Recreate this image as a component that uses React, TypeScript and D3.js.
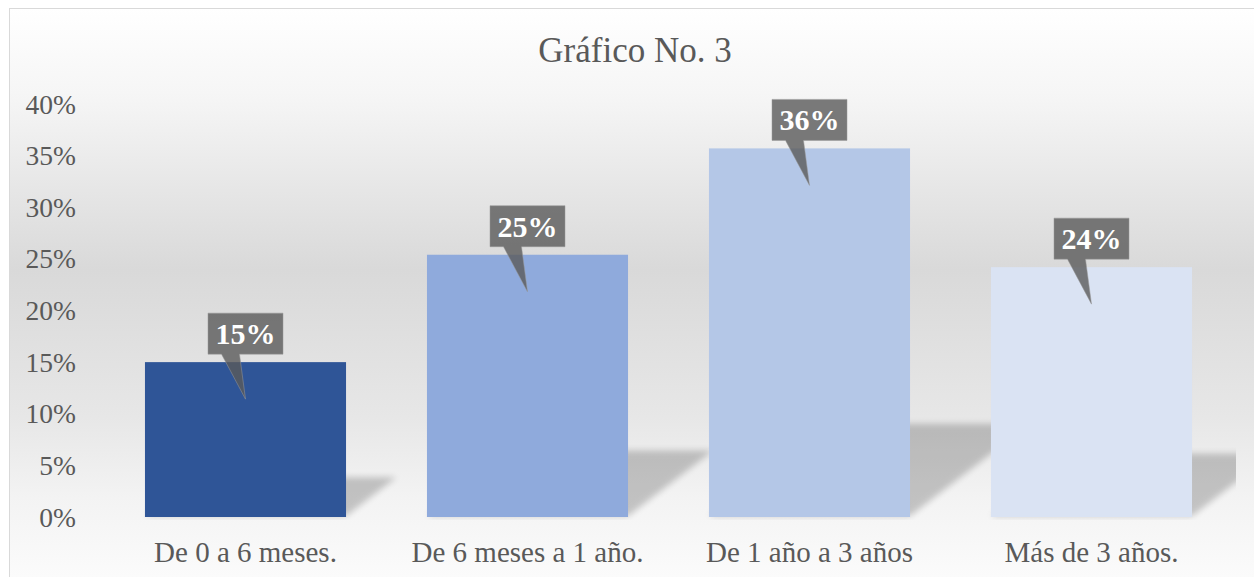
import React from "react";
import * as d3 from "d3";

const categories = ["De 0 a 6 meses.", "De 6 meses a 1 año.", "De 1 año a 3 años", "Más de 3 años."];
const values = [0.15, 0.254, 0.357, 0.242];
const barColors = ["#2f5597", "#8faadc", "#b4c7e7", "#dae3f3"];
const yTicks = [0, 0.05, 0.1, 0.15, 0.2, 0.25, 0.3, 0.35, 0.4];
const title = "Gráfico No. 3";

const W = 1254;
const H = 577;
const FONT = "'Liberation Serif', 'Times New Roman', serif";

export default function App() {
  const x = d3.scaleBand<string>().domain(categories).range([104.5, 1232.5]).paddingInner(0.287).paddingOuter(0.1435);
  const y = d3.scaleLinear().domain([0, 0.4]).range([517, 104]);
  const fmt = d3.format(".0%");
  const bw = x.bandwidth();

  return (
    <svg width={W} height={H} style={{ position: "absolute", left: 0, top: 0 }} xmlns="http://www.w3.org/2000/svg">
      <defs>
        <linearGradient id="bg" gradientUnits="userSpaceOnUse" x1="0" y1="8" x2="0" y2="577">
          <stop offset="0" stopColor="#ffffff" />
          <stop offset="0.15" stopColor="#f6f6f6" />
          <stop offset="0.46" stopColor="#d9d9d9" />
          <stop offset="0.72" stopColor="#e7e7e7" />
          <stop offset="0.86" stopColor="#f3f3f3" />
          <stop offset="1" stopColor="#fbfbfb" />
        </linearGradient>
        <filter id="blur" x="-20%" y="-50%" width="140%" height="200%">
          <feGaussianBlur stdDeviation="3" />
        </filter>
        <clipPath id="plotClip">
          <rect x={100} y={90} width={1136} height={430} />
        </clipPath>
      </defs>
      <rect x={0} y={0} width={W} height={H} fill="#ffffff" />
      <rect x={9.5} y={8.5} width={1300} height={620} fill="url(#bg)" stroke="#d9d9d9" strokeWidth={1} />

      <text x={635} y={62} textAnchor="middle" fontFamily={FONT} fontSize={35} fill="#595959">
        {title}
      </text>

      {yTicks.map((t) => (
        <text key={t} x={76} y={y(t) + 9.5} textAnchor="end" fontFamily={FONT} fontSize={27.5} fill="#595959">
          {fmt(t)}
        </text>
      ))}

      <g clipPath="url(#plotClip)">
        {categories.map((c, i) => {
          const x0 = x(c)!;
          const x1 = x0 + bw;
          const base = y(0) - 1;
          const h = y(0) - y(values[i]);
          const hs = h * 0.25;
          const sh = hs * 1.3;
          const pts = [
            [x0, base],
            [x1, base],
            [x1 + sh, base - hs],
            [x0 + sh, base - hs],
          ];
          return (
            <polygon key={c} points={pts.map((p) => p.join(",")).join(" ")} fill="#000" opacity={0.2} filter="url(#blur)" />
          );
        })}
      </g>

      {categories.map((c, i) => (
        <rect key={c} x={x(c)!} y={y(values[i])} width={bw} height={y(0) - y(values[i])} fill={barColors[i]} />
      ))}

      {categories.map((c, i) => {
        const cx = x(c)! + bw / 2;
        const top = y(values[i]);
        const bx0 = cx - 37.5;
        const bx1 = cx + 37.5;
        const by1 = top - 8;
        const by0 = by1 - 41;
        const tipY = top + 37;
        const path = d3.path();
        path.moveTo(bx0, by0);
        path.lineTo(bx1, by0);
        path.lineTo(bx1, by1);
        path.lineTo(cx - 6, by1);
        path.lineTo(cx, tipY);
        path.lineTo(cx - 24, by1);
        path.lineTo(bx0, by1);
        path.closePath();
        return (
          <g key={c}>
            <path d={path.toString()} fill="#5a5a5a" fillOpacity={0.8} stroke="#9a9a9a" strokeOpacity={0.5} strokeWidth={1} />
            <text x={cx} y={by0 + 31} textAnchor="middle" fontFamily={FONT} fontWeight="bold" fontSize={30} fill="#ffffff">
              {fmt(Math.round(values[i] * 100) / 100)}
            </text>
          </g>
        );
      })}

      {categories.map((c) => (
        <text key={c} x={x(c)! + bw / 2} y={562} textAnchor="middle" fontFamily={FONT} fontSize={29} fill="#595959">
          {c}
        </text>
      ))}
    </svg>
  );
}
